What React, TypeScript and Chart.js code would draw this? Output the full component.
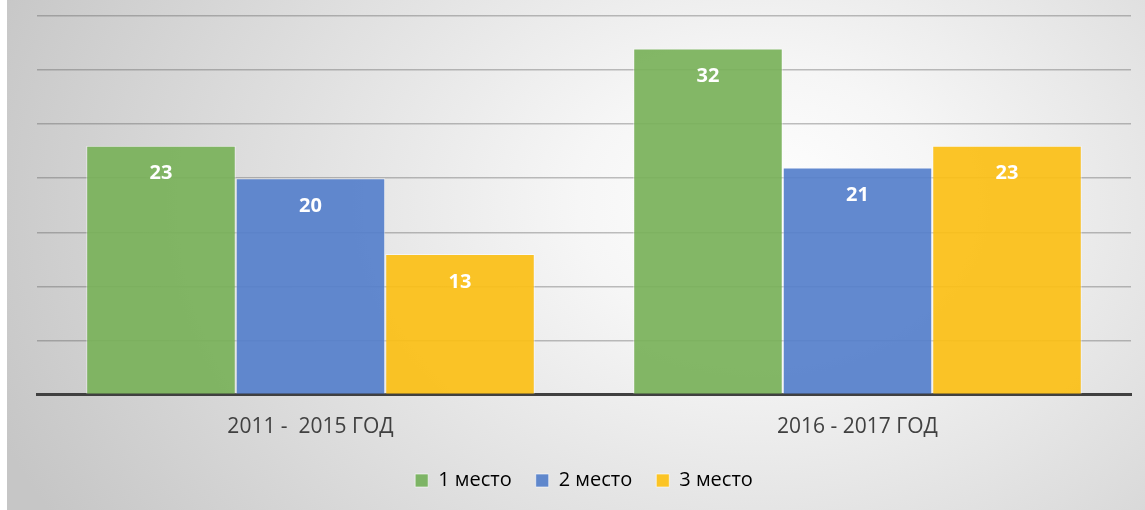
import React, { useEffect, useRef } from "react";
import { Chart, registerables } from "chart.js";

Chart.register(...registerables);

const categories = ["2011 -  2015 ГОД", "2016 - 2017 ГОД"];
const seriesNames = ["1 место", "2 место", "3 место"];
const place1 = [23, 32];
const place2 = [20, 21];
const place3 = [13, 23];
const colors = ["rgba(122,178,90,0.93)", "rgba(86,128,203,0.93)", "rgba(251,192,23,0.93)"];
const legendColors = ["#7db465", "#5f87cc", "#fbc425"];
const yMax = 35;
const yStep = 5;

const labelPlugin = {
  id: "barLabels",
  afterDatasetsDraw(chart: any) {
    const ctx = chart.ctx;
    ctx.save();
    ctx.font = "bold 20px 'Open Sans'";
    ctx.fillStyle = "#ffffff";
    ctx.textAlign = "center";
    ctx.textBaseline = "middle";
    chart.data.datasets.forEach((ds: any, i: number) => {
      const meta = chart.getDatasetMeta(i);
      meta.data.forEach((el: any, j: number) => {
        ctx.fillText(String(ds.data[j]), el.x, el.y + 28);
      });
    });
    ctx.restore();
  },
};

export default function App() {
  const ref = useRef<HTMLCanvasElement>(null);
  useEffect(() => {
    if (!ref.current) return;
    Chart.defaults.font.family = "'Open Sans'";
    Chart.defaults.color = "#404040";
    const data = [place1, place2, place3];
    const chart = new Chart(ref.current, {
      type: "bar",
      data: {
        labels: categories,
        datasets: seriesNames.map((n, i) => ({
          label: n,
          data: data[i],
          backgroundColor: colors[i],
          borderColor: "rgba(255,255,255,0.55)",
          borderWidth: 1,
          categoryPercentage: 0.82,
          barPercentage: 1,
        })),
      },
      options: {
        responsive: false,
        animation: false,
        layout: { padding: { left: 30, right: 14, top: 16, bottom: 9.5 } },
        scales: {
          x: {
            grid: { display: false, drawTicks: false },
            border: { display: true, color: "#404040", width: 3 },
            ticks: { font: { size: 21 }, color: "#404040", padding: 20 },
            afterFit: (s: any) => {
              s.height = 52;
            },
          },
          y: {
            min: 0,
            max: yMax,
            ticks: { display: false, stepSize: yStep },
            grid: {
              drawTicks: false,
              color: (c: any) => (c.tick && c.tick.value === 0 ? "rgba(0,0,0,0)" : "rgba(90,90,90,0.38)"),
              lineWidth: 1.5,
            },
            border: { display: false },
          },
        },
        plugins: {
          legend: {
            position: "bottom",
            labels: {
              boxWidth: 13,
              boxHeight: 13,
              padding: 24,
              font: { size: 20 },
              color: "#404040",
              generateLabels: () =>
                seriesNames.map((n, i) => ({
                  text: n,
                  fillStyle: legendColors[i],
                  strokeStyle: "rgba(255,255,255,0.6)",
                  lineWidth: 1,
                  datasetIndex: i,
                  hidden: false,
                })),
            },
          },
          tooltip: { enabled: false },
        },
      },
      plugins: [labelPlugin],
    });
    return () => chart.destroy();
  }, []);
  return (
    <div
      style={{
        position: "absolute",
        left: 7,
        top: 0,
        width: 1138,
        height: 510,
        background:
          "radial-gradient(ellipse 72% 120% at 66% 40%, #ffffff 0%, #f6f6f6 22%, #c6c6c6 100%)",
      }}
    >
      <canvas ref={ref} width={1138} height={510} style={{ display: "block" }} />
    </div>
  );
}
